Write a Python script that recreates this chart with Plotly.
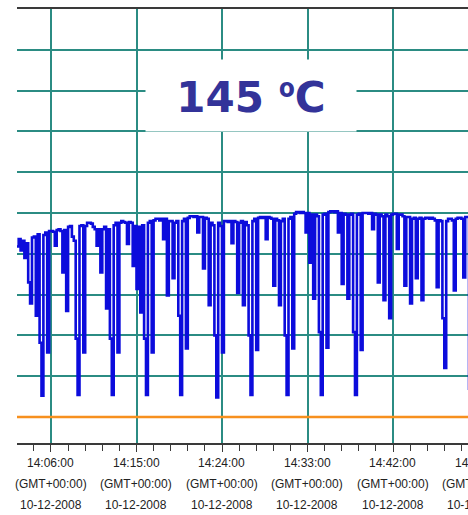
import pandas as pd
import plotly.graph_objects as go

# Temperature log, one reading every 12 s starting at 14:02:24 on 10-12-2008
sample_start = "2008-12-10 14:02:24"
sample_step_s = 12
temps_c = [
    165.9, 166.8, 165.4, 166.6, 164.5, 166.3, 161.5, 158.9, 167.0, 167.1,
    157.4, 167.4, 154.1, 147.6, 167.3, 167.6, 152.9, 167.8, 167.8, 167.7,
    166.0, 167.9, 168.0, 167.8, 162.7, 167.9, 158.0, 168.3, 168.4, 167.1,
    166.6, 154.6, 147.7, 168.4, 168.5, 152.9, 168.4, 168.8, 168.8, 168.7,
    168.3, 168.0, 166.0, 168.0, 162.7, 168.0, 168.3, 158.3, 168.0, 154.6,
    147.7, 168.5, 168.8, 152.9, 168.8, 169.0, 168.9, 168.8, 166.2, 168.9,
    168.8, 163.5, 168.4, 160.7, 168.3, 157.8, 168.5, 154.6, 147.7, 168.8,
    169.0, 152.9, 169.1, 169.3, 169.3, 169.1, 169.3, 166.8, 169.3, 159.9,
    169.0, 169.0, 162.0, 168.8, 169.0, 157.4, 147.7, 169.0, 169.3, 153.4,
    169.4, 169.6, 169.6, 169.5, 169.6, 167.6, 169.5, 169.5, 163.2, 169.4,
    169.3, 158.7, 168.8, 168.5, 155.0, 147.4, 168.8, 168.4, 152.9, 169.0,
    169.0, 168.9, 169.0, 166.3, 169.0, 168.9, 160.2, 168.8, 169.0, 158.7,
    168.9, 168.5, 155.0, 147.7, 169.0, 169.3, 153.2, 169.4, 169.5, 169.4,
    169.5, 166.8, 169.5, 169.4, 169.3, 161.1, 169.3, 169.1, 158.7, 169.0,
    169.3, 155.0, 147.7, 169.3, 169.5, 153.4, 169.9, 170.1, 170.1, 170.0,
    170.1, 170.0, 167.6, 170.0, 163.9, 169.8, 159.5, 169.8, 169.6, 155.4,
    147.7, 169.8, 169.9, 153.5, 170.1, 170.2, 170.2, 170.1, 170.2, 167.6,
    170.0, 161.3, 169.9, 169.8, 159.5, 169.8, 169.9, 155.4, 147.7, 169.8,
    169.9, 153.2, 170.0, 170.0, 170.0, 169.9, 170.0, 168.0, 169.9, 169.8,
    161.5, 169.8, 169.6, 159.3, 169.8, 169.6, 157.1, 169.8, 169.9, 169.9,
    165.6, 169.8, 169.8, 169.6, 161.1, 169.5, 169.5, 158.9, 169.3, 169.4,
    162.0, 169.3, 169.4, 159.3, 169.3, 169.4, 169.4, 169.3, 169.4, 169.3,
    169.1, 160.9, 169.1, 169.0, 157.1, 151.0, 169.0, 169.3, 169.3, 169.1,
    160.5, 169.3, 169.4, 169.4, 169.3, 162.1, 169.5, 169.5, 148.3,
]
limit_c = 145

tick_times = ["14:06:00", "14:15:00", "14:24:00", "14:33:00", "14:42:00", "14:51:00"]
tick_zone = "(GMT+00:00)"
tick_date = "10-12-2008"
label_value = "145"
label_unit = "ºC"

times = pd.date_range(sample_start, periods=len(temps_c), freq=f"{sample_step_s}s")
tick_vals = [pd.Timestamp(f"2008-12-10 {t}") for t in tick_times]

x_range = [pd.Timestamp("2008-12-10 14:02:25.3"), pd.Timestamp("2008-12-10 14:49:53.7")]
y_range = [141.81, 195]

GRID = "#2b8c83"
AXIS = "#3a3a3a"
TEXT = "#222222"

fig = go.Figure()

# set-point line
fig.add_trace(go.Scatter(
    x=x_range, y=[limit_c, limit_c], mode="lines",
    line=dict(color="#f7901e", width=2.5), hoverinfo="skip", showlegend=False,
))

# measured temperature (logger holds each reading until the next one)
fig.add_trace(go.Scatter(
    x=times, y=temps_c, mode="lines",
    line=dict(color="#0c0cdc", width=2.6, shape="hv"), showlegend=False,
))


def to_paper(ts):
    """Fraction of the x axis span for a timestamp (may fall past the right edge)."""
    return (ts - x_range[0]) / (x_range[1] - x_range[0])


annotations = []
for tv, tt in zip(tick_vals, tick_times):
    for text, ypix in ((tt, 463), (tick_zone, 484), (tick_date, 505)):
        annotations.append(dict(
            x=to_paper(tv), xref="paper", y=(443 - ypix) / 434, yref="paper",
            text=text, showarrow=False, xanchor="center", yanchor="middle",
            font=dict(family="Liberation Sans, Arial", size=12, color=TEXT),
        ))

annotations.append(dict(
    x=(251 - 17) / 451, y=(443 - 96) / 434, xref="paper", yref="paper",
    text=(f"<b>{label_value} <span style='font-family:Noto Sans'>{label_unit[0]}</span>"
          f"{label_unit[1:]}</b>"),
    showarrow=False,
    xanchor="center", yanchor="middle", width=210, height=71,
    bgcolor="white", borderpad=0,
    font=dict(family="DejaVu Sans", size=42, color="#333399"),
))

fig.update_layout(
    width=468, height=515,
    margin=dict(l=17, r=0, t=9, b=72),
    paper_bgcolor="white", plot_bgcolor="white",
    annotations=annotations,
    xaxis=dict(
        type="date", range=x_range,
        tickmode="array", tickvals=tick_vals, showticklabels=False,
        ticks="outside", ticklen=7, tickcolor=AXIS, tickwidth=1,
        showgrid=True, gridcolor=GRID, gridwidth=1.5,
        showline=True, linecolor=AXIS, linewidth=1.5, mirror=True,
        zeroline=False,
        minor=dict(
            tickmode="linear", tick0="2008-12-10 14:06:00", dtick=108000,
            ticks="outside", ticklen=6, tickcolor=AXIS, showgrid=False,
        ),
    ),
    yaxis=dict(
        range=y_range, tickmode="linear", tick0=limit_c, dtick=5,
        showticklabels=False, ticks="",
        showgrid=True, gridcolor=GRID, gridwidth=1.5,
        zeroline=False, showline=False,
    ),
)

fig.write_html("out.html")
